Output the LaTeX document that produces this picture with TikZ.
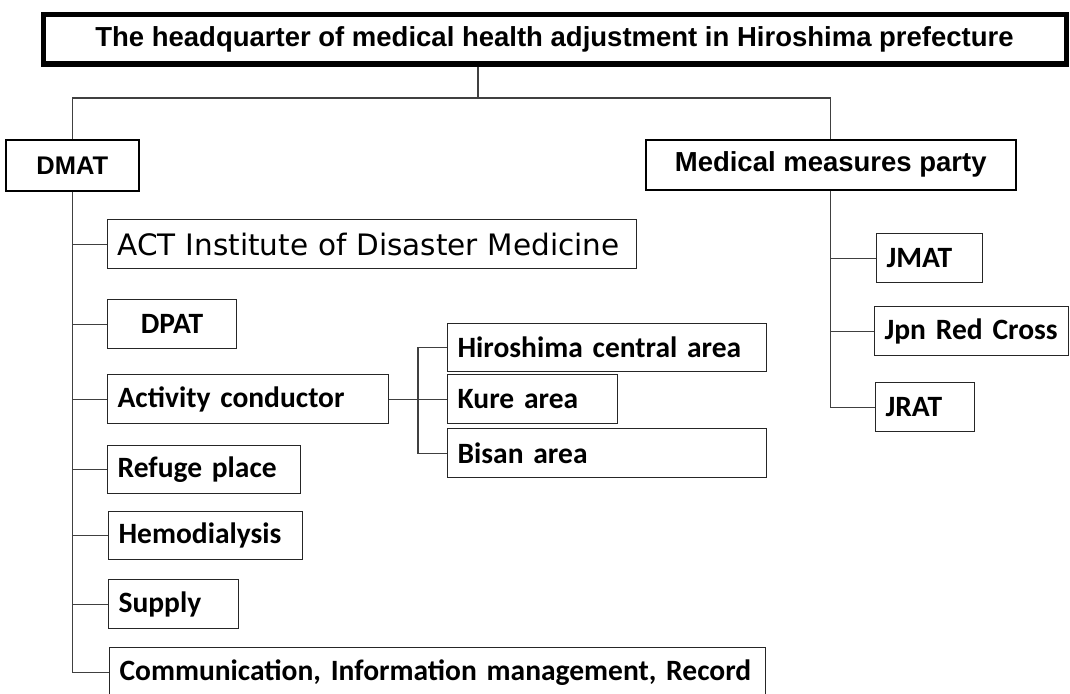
\documentclass[tikz,border=0pt]{standalone}
\usepackage{fontspec}
\setmainfont{Liberation Sans}
\newfontfamily\calibfont[WordSpace=0.6]{Carlito}
\newfontfamily\tahofont{DejaVu Sans}

\tikzset{
  link/.style={draw=black!75, line width=1.1pt},
  unit/.style={draw=black!85, line width=1.2pt, anchor=north west, inner xsep=10pt, inner ysep=0pt,
    align=left, minimum height=49pt, font=\calibfont\bfseries\fontsize{29.5}{31}\selectfont},
  head/.style={draw=black, line width=5pt, anchor=north west, inner sep=0pt, align=center,
    font=\bfseries\fontsize{27.5}{30}\selectfont},
}

\begin{document}
\begin{tikzpicture}[x=1pt,y=-1pt]

\useasboundingbox (0,0) rectangle (1070,693);

\node[head, minimum width=1023pt, minimum height=49pt] (hq) at (40.5,12.5)
  {The headquarter of medical health adjustment in Hiroshima prefecture};

\node[head, line width=1.5pt, minimum width=133pt, minimum height=51pt, font=\bfseries\fontsize{25.5}{28}\selectfont] (dmat) at (5,139) {DMAT};
\node[head, line width=1.5pt, minimum width=370pt, minimum height=50pt] (mmp) at (645,139) {Medical measures party};

\coordinate (split) at (478,98);
\draw[link] (hq.south -| split) -- (split);
\draw[link] (dmat.north) |- (split) -| (mmp.north);

% DMAT branch
\node[unit, text width=509pt, font=\tahofont\fontsize{29.5}{31}\selectfont] (act) at (107,219) {ACT Institute of Disaster Medicine};
\node[unit, text width=109pt, align=center] (dpat) at (107,299) {DPAT};
\node[unit, text width=261pt] (actv) at (107,374) {Activity conductor};
\node[unit, text width=173pt, minimum height=48pt] (refuge) at (107,445) {Refuge place};
\node[unit, text width=174pt, minimum height=48pt] (hemo) at (108,511) {Hemodialysis};
\node[unit, text width=110pt] (supply) at (108,579) {Supply};
\node[unit, text width=636pt, minimum height=50pt] (comm) at (109,647) {Communication, Information management, Record};

\draw[link] (dmat.south) |- (comm.west);
\foreach \c in {act,dpat,actv,refuge,hemo,supply}
  \draw[link] (dmat.south |- \c.west) -- (\c.west);

% areas
\node[unit, text width=299pt, minimum height=48pt] (hiro) at (447,323) {Hiroshima central area};
\node[unit, text width=150pt] (kure) at (447,374) {Kure area};
\node[unit, text width=299pt] (bisan) at (447,428) {Bisan area};

\coordinate (fork) at (418,400);
\draw[link] (actv.east) -- (kure.west);
\draw[link] (hiro.west) -- (hiro.west -| fork) -- (bisan.west -| fork) -- (bisan.west);

% medical measures branch
\node[unit, text width=86pt] (jmat) at (876,233) {JMAT};
\node[unit, text width=174pt] (jrc) at (874,306) {Jpn Red Cross};
\node[unit, text width=79pt] (jrat) at (875,382) {JRAT};

\draw[link] (mmp.south) |- (jrat.west);
\foreach \c in {jmat,jrc}
  \draw[link] (mmp.south |- \c.west) -- (\c.west);

\end{tikzpicture}
\end{document}
